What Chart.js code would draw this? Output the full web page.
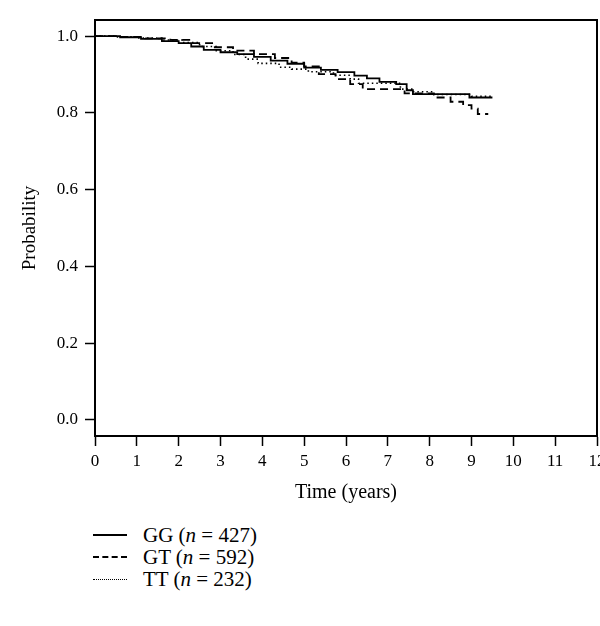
<!DOCTYPE html>
<html>
<head>
<meta charset="utf-8">
<script src="https://cdn.jsdelivr.net/npm/chart.js@4.4.0/dist/chart.umd.min.js"></script>
<style>
  body { margin: 0; background: #fff; width: 600px; height: 626px; position: relative; overflow: hidden;
         font-family: "Liberation Serif", "DejaVu Serif", serif; color: #000; }
  #wrap { position: absolute; left: 0; top: 0; width: 600px; height: 510px; }
  #legend { position: absolute; left: 93px; top: 524px; }
  .row { display: flex; align-items: center; height: 22px; font-size: 21px; }
  .sw { width: 34px; height: 0; border-top: 2px solid #000; margin-right: 16px; }
  .sw.dash { border-top-style: dashed; }
  .sw.dot { border-top: 1.5px dotted #000; }
</style>
</head>
<body>
<div id="wrap"><canvas id="km" width="600" height="510"></canvas></div>
<div id="legend">
  <div class="row"><span class="sw"></span>GG (<i>n</i>&nbsp;= 427)</div>
  <div class="row"><span class="sw dash"></span>GT (<i>n</i>&nbsp;= 592)</div>
  <div class="row"><span class="sw dot"></span>TT (<i>n</i>&nbsp;= 232)</div>
</div>
<script>
// Kaplan-Meier step curves
const timeGG = [0, 0.6, 1.1, 1.6, 2.0, 2.3, 2.6, 3.0, 3.4, 3.8, 4.2, 4.6, 5.0, 5.4, 5.8, 6.2, 6.5, 6.8, 7.2, 7.45, 7.6, 8.95, 9.5];
const probGG = [1.0, 0.997, 0.993, 0.987, 0.982, 0.973, 0.964, 0.958, 0.953, 0.946, 0.936, 0.928, 0.918, 0.912, 0.906, 0.897, 0.89, 0.881, 0.875, 0.859, 0.849, 0.84, 0.84];

const timeGT = [0, 0.5, 1.2, 1.8, 2.3, 2.8, 3.3, 3.8, 4.3, 4.7, 5.0, 5.35, 5.75, 6.1, 6.4, 7.4, 8.1, 8.5, 8.8, 9.0, 9.15, 9.4];
const probGT = [1.0, 0.998, 0.994, 0.99, 0.982, 0.971, 0.962, 0.953, 0.943, 0.931, 0.921, 0.901, 0.888, 0.875, 0.862, 0.851, 0.84, 0.829, 0.82, 0.811, 0.797, 0.797];

const timeTT = [0, 0.5, 1.0, 1.6, 2.1, 2.5, 2.9, 3.3, 3.6, 3.9, 4.4, 4.7, 5.1, 5.7, 6.1, 6.3, 7.3, 7.6, 8.1, 9.0, 9.5];
const probTT = [1.0, 0.998, 0.995, 0.99, 0.983, 0.973, 0.962, 0.952, 0.94, 0.929, 0.919, 0.914, 0.907, 0.898, 0.888, 0.877, 0.862, 0.855, 0.848, 0.843, 0.84];

const xTicks = [0, 1, 2, 3, 4, 5, 6, 7, 8, 9, 10, 11, 12];
const yTicks = [0, 0.2, 0.4, 0.6, 0.8, 1.0];

const toPoints = (ts, ps) => ts.map((t, i) => ({ x: t, y: ps[i] }));

// draw the top and right sides of the box
const frame = {
  id: 'frame',
  afterDraw(chart) {
    const a = chart.chartArea, c = chart.ctx;
    c.save();
    c.strokeStyle = '#000';
    c.lineWidth = 2;
    c.strokeRect(a.left, a.top, a.right - a.left, a.bottom - a.top);
    c.restore();
  }
};

const family = '"Liberation Serif", "DejaVu Serif", serif';

new Chart(document.getElementById('km'), {
  type: 'line',
  data: {
    datasets: [{
      label: 'GG',
      data: toPoints(timeGG, probGG),
      borderColor: '#000',
      borderWidth: 1.8,
      stepped: true
    }, {
      label: 'GT',
      data: toPoints(timeGT, probGT),
      borderColor: '#000',
      borderWidth: 1.8,
      borderDash: [8, 5],
      stepped: true
    }, {
      label: 'TT',
      data: toPoints(timeTT, probTT),
      borderColor: '#000',
      borderWidth: 1.6,
      borderDash: [1.5, 3],
      stepped: true
    }]
  },
  plugins: [frame],
  options: {
    responsive: false,
    animation: false,
    devicePixelRatio: 1,
    elements: { point: { radius: 0 } },
    layout: { padding: { top: 20, right: 3, left: 0, bottom: 0 } },
    plugins: {
      legend: { display: false },
      tooltip: { enabled: false }
    },
    scales: {
      x: {
        type: 'linear',
        min: 0,
        max: 12,
        afterBuildTicks: s => { s.ticks = xTicks.map(v => ({ value: v })); },
        afterFit: s => { s.paddingRight = 0; s.paddingLeft = 0; s.height = 74; },
        ticks: { color: '#000', font: { family: family, size: 17 }, padding: 5, maxRotation: 0 },
        grid: { drawOnChartArea: false, drawTicks: true, tickLength: 10, tickColor: '#000', tickWidth: 1.5 },
        border: { display: true, color: '#000', width: 2 },
        title: { display: true, text: 'Time (years)', color: '#000', font: { family: family, size: 20 }, padding: { top: 6, bottom: 5 } }
      },
      y: {
        min: -0.042,
        max: 1.042,
        afterBuildTicks: s => { s.ticks = yTicks.map(v => ({ value: v })); },
        afterFit: s => { s.width = 95; },
        ticks: { color: '#000', font: { family: family, size: 17 }, padding: 7, callback: v => v.toFixed(1) },
        grid: { drawOnChartArea: false, drawTicks: true, tickLength: 10, tickColor: '#000', tickWidth: 1.5 },
        border: { display: true, color: '#000', width: 2 },
        title: { display: true, text: 'Probability', color: '#000', font: { family: family, size: 19 }, padding: { top: 19, bottom: 0 } }
      }
    }
  }
});
</script>
</body>
</html>
